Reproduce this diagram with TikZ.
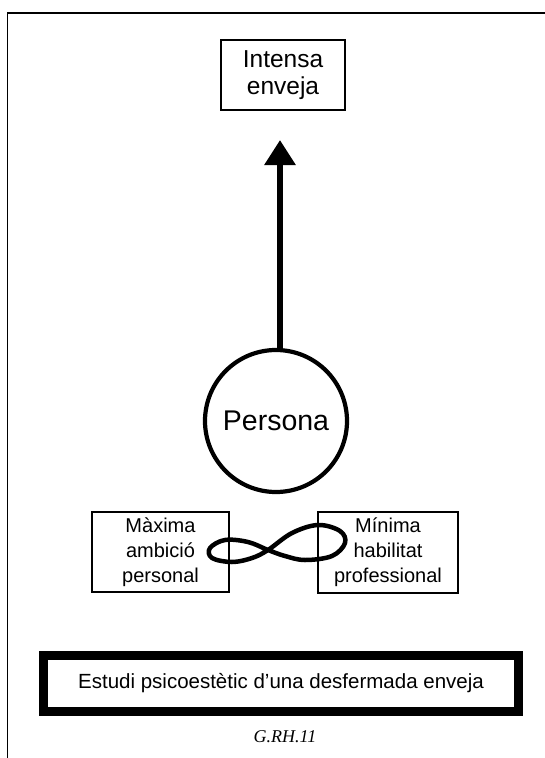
\documentclass[tikz,border=0pt]{standalone}
\usepackage{fontspec}
\setmainfont{Liberation Sans}
\newfontfamily\serifit{Liberation Serif}
\usetikzlibrary{arrows.meta}
\begin{document}
\begin{tikzpicture}[x=1pt,y=-1pt,
  labbox/.style={draw, line width=1.7pt, fill=white, align=center, inner sep=0pt},
  smallfont/.style={font=\fontsize{20}{25}\selectfont},
]
\useasboundingbox (0,0) rectangle (545,758);
% outer frame (open to the right and bottom)
\coordinate (frTR) at (545,13);
\coordinate (frTL) at (7.5,13);
\coordinate (frBL) at (7.5,758);
\draw[line width=1.5pt] (frTR) -- (frTL) -- (frBL);

% top box
\node[labbox, minimum width=124pt, minimum height=70pt,
      font=\fontsize{24.5}{27}\selectfont] (top) at (283,75) {Intensa\\enveja};

% person circle
\node[circle, draw, line width=4.2pt, minimum size=142pt, inner sep=0pt,
      font=\fontsize{28.5}{30}\selectfont] (pers) at (276,421) {Persona};

% arrow
\coordinate (tip) at (280,140);
\draw[line width=6pt, -{Triangle[length=25pt,width=30pt]}] (pers.north -| tip) -- (tip);

% side boxes
\node[labbox, smallfont, minimum width=137pt, minimum height=80pt] (amb) at (160.5,552) {Màxima\\ambició\\personal};
\node[labbox, smallfont, minimum width=140pt, minimum height=81pt] (hab) at (388,552.5) {Mínima\\habilitat\\professional};

% infinity loop between the boxes
\draw[line width=4.5pt, line join=round] plot[smooth cycle, tension=0.6] coordinates {
  (268,550) (292,533) (318,525) (340,531) (345,543) (332,556) (305,560) (285,556)
  (268,550) (248,542) (225,540) (210,548) (212,558) (232,562) (252,558)};

% bottom title box
\node[draw, line width=9pt, minimum width=475pt, minimum height=56pt, inner sep=0pt,
      font=\fontsize{20.5}{24}\selectfont] (title) at (281,683.5) {Estudi psicoestètic d’una desfermada enveja};

% figure label
\node[font=\serifit\itshape\fontsize{18}{20}\selectfont] (lbl) at (285,737) {G.RH.11};
\end{tikzpicture}
\end{document}
